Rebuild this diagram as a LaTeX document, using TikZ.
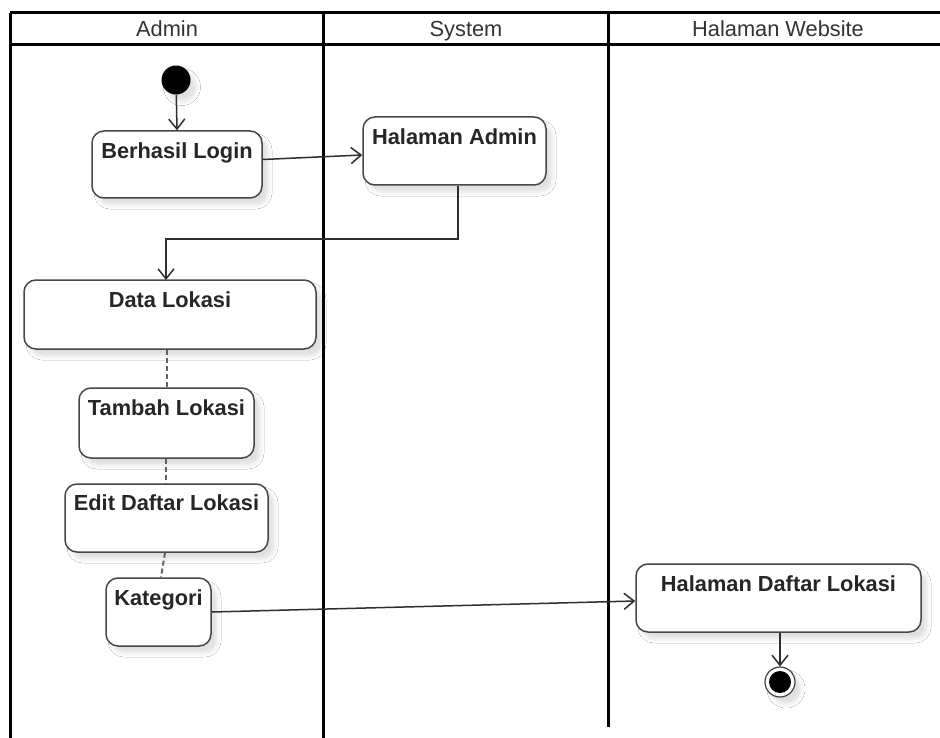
\documentclass[tikz,border=0pt]{standalone}
\usepackage{fontspec}
\setmainfont{Liberation Sans}
\usetikzlibrary{arrows.meta,shadows,shadows.blur}

\begin{document}
\begin{tikzpicture}[x=1pt,y=-1pt,
  lane/.style={line width=3pt, black},
  act/.style={draw=black!72, line width=1.5pt, fill=white, rounded corners=12pt,
    inner sep=0pt,
    blur shadow={shadow xshift=6pt, shadow yshift=-7pt, shadow blur radius=4pt, shadow opacity=12}},
  acttext/.style={anchor=north, inner sep=0pt, text=black!85,
    font=\bfseries\fontsize{21.8}{24}\selectfont},
  head/.style={anchor=base, inner sep=0pt, text=black!80, font=\fontsize{21.8}{26}\selectfont},
  flow/.style={draw=black!82, line width=1.5pt, -{Straight Barb[length=10pt,width=16pt,line width=1.5pt]}},
  dep/.style={draw=black!62, line width=2pt, dash pattern=on 5pt off 3pt},
  initial/.style={circle, fill=black, inner sep=0pt, minimum size=29pt,
    blur shadow={shadow xshift=6pt, shadow yshift=-7pt, shadow blur radius=4pt, shadow opacity=12}},
  finalring/.style={circle, draw=black!75, line width=1.2pt, fill=white, inner sep=0pt, minimum size=30pt,
    blur shadow={shadow xshift=6pt, shadow yshift=-7pt, shadow blur radius=4pt, shadow opacity=12}},
  finaldot/.style={circle, fill=black, inner sep=0pt, minimum size=22pt}
]
\useasboundingbox (0,0) rectangle (940,738);
\fill[white] (0,0) rectangle (940,738);

% swimlane frame
\draw[lane] (10,13) -- (940,13);
\draw[lane] (10,45) -- (940,45);
\draw[lane] (10,13) -- (10,738);
\draw[lane] (323,13) -- (323,738);
\draw[lane] (608,13) -- (608,727);

\node[head] (hAdmin) at (167,37) {Admin};
\node[head] (hSystem) at (466,37) {System};
\node[head] (hWeb) at (778,37) {Halaman Website};

% activities
\node[initial] (start) at (176,80) {};

\node[act, minimum width=170pt, minimum height=67pt] (bl) at (177,164.5) {};
\node[acttext] (blt) at ([yshift=-12pt]bl.north) {Berhasil Login};

\node[act, minimum width=183pt, minimum height=68pt] (ha) at (454.5,151) {};
\node[acttext] (hat) at ([yshift=-12pt]ha.north) {Halaman Admin};

\node[act, minimum width=292pt, minimum height=69pt] (dl) at (170,314.5) {};
\node[acttext] (dlt) at ([yshift=-12pt]dl.north) {Data Lokasi};

\node[act, minimum width=175pt, minimum height=70pt] (tl) at (166.5,423) {};
\node[acttext] (tlt) at ([yshift=-12pt]tl.north) {Tambah Lokasi};

\node[act, minimum width=203pt, minimum height=68pt] (ed) at (166.5,518) {};
\node[acttext] (edt) at ([yshift=-11pt]ed.north) {Edit Daftar Lokasi};

\node[act, minimum width=105pt, minimum height=68pt] (kat) at (158.5,612) {};
\node[acttext] (katt) at ([yshift=-12pt]kat.north) {Kategori};

\node[act, minimum width=285pt, minimum height=68pt] (hdl) at (778.5,598) {};
\node[acttext] (hdlt) at ([yshift=-12pt]hdl.north) {Halaman Daftar Lokasi};

\node[finalring] (end) at (780,682) {};
\node[finaldot] (enddot) at (end.center) {};

% control flow
\draw[flow] (start) -- (bl.north);
\draw[flow] ([yshift=5pt]bl.east) -- ([yshift=-4pt]ha.west);
\coordinate (haout) at ([xshift=3.5pt]ha.south);
\coordinate (dlin) at (166,280);
\draw[flow] (haout) -- (haout |- 0,239) -- (dlin |- 0,239) -- (dlin);
\draw[flow] (kat.east) -- ([yshift=-3pt]hdl.west);
\draw[flow] ([xshift=1.5pt]hdl.south) -- (end.north);

% dependencies between the location sub-activities
\draw[dep] (dl.south -| tl.north) -- (tl.north);
\draw[dep] ([xshift=-1pt]tl.south) -- ([xshift=-1pt]ed.north);
\draw[dep] ([xshift=-1.5pt]ed.south) -- ([xshift=2.5pt]kat.north);
\end{tikzpicture}
\end{document}
